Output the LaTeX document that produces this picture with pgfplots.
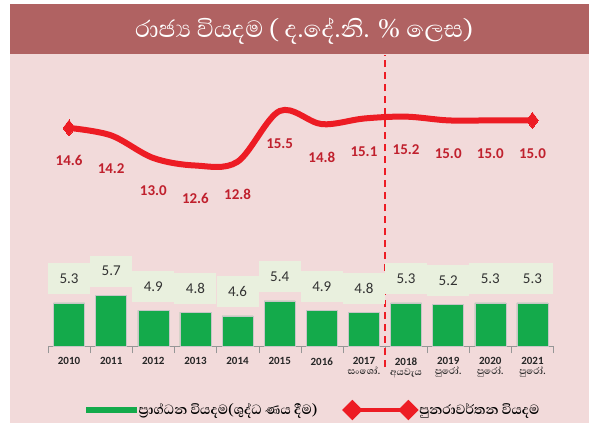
\documentclass[border=0pt]{standalone}
\usepackage{fontspec}
\setmainfont{Carlito}
\newfontfamily\sinhalafont[Script=Sinhala]{Abhaya Libre}
\usepackage{pgfplots}
\pgfplotsset{compat=1.18}

\definecolor{band}{RGB}{176,98,98}
\definecolor{panel}{RGB}{242,218,218}
\definecolor{bargreen}{RGB}{20,170,75}
\definecolor{labelbg}{RGB}{233,240,222}
\definecolor{linered}{RGB}{237,28,36}
\definecolor{labelred}{RGB}{192,32,45}
\definecolor{axisgray}{RGB}{150,150,150}

\newcommand{\sub}[1]{{\sinhalafont\bfseries\fontsize{12}{12}\selectfont #1}}

\begin{document}
\begin{tikzpicture}[x=1pt,y=1pt]
\useasboundingbox (0,0) rectangle (599,423);
\fill[panel] (10,0) rectangle (589,419);
\fill[band] (10,369) rectangle (589,419);
\node[text=white, font=\sinhalafont\fontsize{30}{32}\selectfont] at (304,392)
  {රාජ^^^^0dca^^^^200dය වියදම ( ද.දේ.නි. \% ලෙස)};

\begin{axis}[
    at={(48pt,77pt)}, anchor=south west,
    scale only axis, width=505.5pt, height=282pt,
    xmin=-0.5, xmax=11.5, ymin=3, ymax=18,
    clip=false,
    axis x line=bottom, axis y line=none,
    axis line style={-, draw=axisgray},
    xtick={0,...,11},
    xticklabels={2010,2011,2012,2013,2014,2015,2016,
      {2017\\[0pt]\sub{සංශෝ.}},
      {2018\\[0pt]\sub{අයවැය}},
      {2019\\[0pt]\sub{පුරෝ.}},
      {2020\\[0pt]\sub{පුරෝ.}},
      {2021\\[0pt]\sub{පුරෝ.}}},
    xticklabel style={font=\bfseries\fontsize{11}{10}\selectfont, text=black!85, align=center, anchor=north, yshift=-8pt},
    major tick length=0pt,
    minor xtick={-0.5,0.5,...,11.5},
    minor tick length=7pt,
    tick align=outside,
    minor x tick style={draw=axisgray},
    legend style={at={(0.526,-0.227)}, anchor=center, draw=none, fill=none,
      font=\sinhalafont\bfseries\fontsize{17}{17}\selectfont,
      /tikz/every even column/.append style={column sep=24pt}},
    legend columns=2,
]

\addplot[ybar, bar width=31pt, fill=bargreen, draw=gray!45,
    legend image code/.code={\fill[bargreen] (0pt,-2.5pt) rectangle (50pt,2.5pt);},
    nodes near coords={\pgfmathprintnumber[fixed,fixed zerofill,precision=1,assume math mode=true]{\pgfplotspointmeta}},
    nodes near coords style={anchor=center, yshift=24pt, fill=labelbg, inner sep=0pt,
      minimum width=42pt, minimum height=31pt, text=black!80,
      font=\fontsize{15}{15}\selectfont}]
coordinates {
    (0,5.3) (1,5.7) (2,4.9) (3,4.8) (4,4.6) (5,5.4)
    (6,4.9) (7,4.8) (8,5.3) (9,5.2) (10,5.3) (11,5.3)
};
\addlegendentry{ප^^^^0dca^^^^200dරාග්ධන වියදම(ශුද්ධ ණය දීම)}

\addplot[smooth, tension=0.55, line width=6pt, color=linered, mark=none,
    legend image code/.code={
      \draw[linered, line width=4pt] (0pt,0pt) -- (56pt,0pt);
      \fill[linered] (-6pt,0pt) -- (0pt,6pt) -- (6pt,0pt) -- (0pt,-6pt) -- cycle;
      \fill[linered] (50pt,0pt) -- (56pt,6pt) -- (62pt,0pt) -- (56pt,-6pt) -- cycle;},
    nodes near coords={\pgfmathprintnumber[fixed,fixed zerofill,precision=1,assume math mode=true]{\pgfplotspointmeta}},
    nodes near coords style={anchor=center, yshift=-33pt, text=labelred,
      font=\bfseries\fontsize{15}{15}\selectfont}]
coordinates {
    (0,14.6) (1,14.2) (2,13.0) (3,12.6) (4,12.8) (5,15.5)
    (6,14.8) (7,15.1) (8,15.2) (9,15.0) (10,15.0) (11,15.0)
};
\addlegendentry{පුනරාවර්තන වියදම}

% diamond markers only at the two ends
\addplot[only marks, forget plot, mark=diamond*, mark size=8pt, color=linered,
    mark options={solid, line width=0pt}]
coordinates {(0,14.6) (11,15.0)};

\draw[linered, line width=2pt, dash pattern=on 7pt off 5pt]
  (axis cs:7.5,1.88) -- (axis cs:7.5,18.48);
\end{axis}
\end{tikzpicture}
\end{document}
